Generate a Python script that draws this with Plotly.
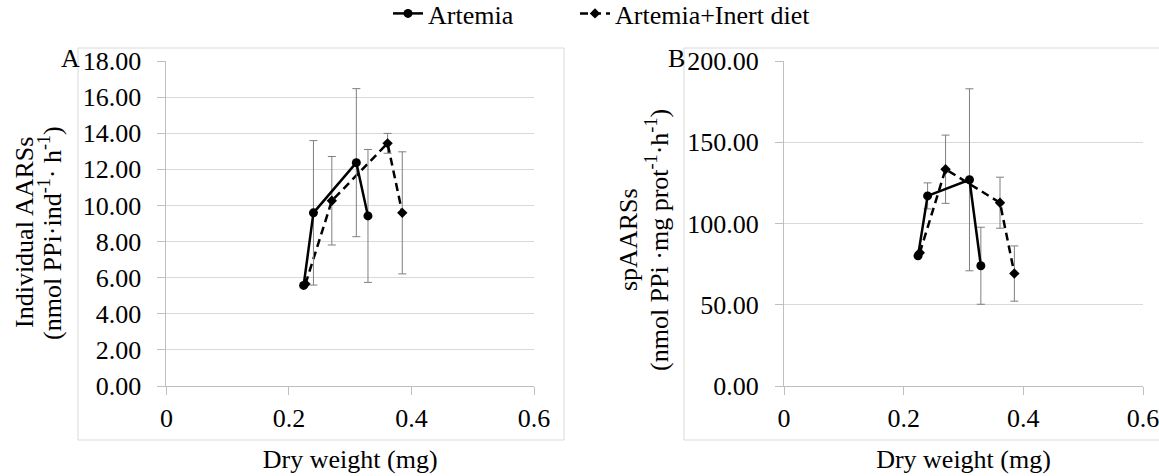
import plotly.graph_objects as go

# ---------------- data ----------------
dw_artemia = [0.224, 0.240, 0.310, 0.329]
dw_inert = [0.227, 0.270, 0.361, 0.385]

# Panel A: individual AARSs (nmol PPi ind-1 h-1)
aars_artemia = [5.57, 9.59, 12.37, 9.42]
aars_artemia_err = [None, 4.0, 4.1, 3.68]
aars_inert = [5.65, 10.26, 13.44, 9.59]
aars_inert_err = [None, 2.45, 0.55, 3.38]

# Panel B: spAARSs (nmol PPi mg prot-1 h-1)
sp_artemia = [80.1, 117.0, 126.9, 74.0]
sp_artemia_err = [None, 8.0, 56.0, 23.7]
sp_inert = [82.0, 133.4, 112.8, 69.2]
sp_inert_err = [None, 21.0, 15.7, 17.0]

series_names = ["Artemia", "Artemia+Inert diet"]
x_ticks = [0, 0.2, 0.4, 0.6]
x_tick_labels = ["0", "0.2", "0.4", "0.6"]
title_a = ["Individual AARSs", "(nmol PPi·ind<sup>-1</sup>· h<sup>-1</sup>)"]
title_b = ["spAARSs", "(nmol PPi ·mg prot<sup>-1</sup>·h<sup>-1</sup>)"]
x_title = "Dry weight (mg)"

# ---------------- styling ----------------
W, H = 1159, 476
FONT = "Liberation Serif, Times New Roman, serif"
FS = 26
ERR = dict(type="data", color="#7F7F7F", thickness=1, width=4, visible=True)
GRID = "#D9D9D9"
AXLINE = "#BFBFBF"


def px_x(v):
    return v / W


def px_y(v):
    return 1 - v / H


fig = go.Figure()


def add_panel(xa, ya, y_inert, e_inert, y_art, e_art, show):
    fig.add_trace(go.Scatter(
        x=dw_inert, y=y_inert, name=series_names[1], mode="lines+markers",
        line=dict(color="black", width=2.5, dash="8px,5px"),
        marker=dict(symbol="diamond", size=8, color="black"),
        error_y=dict(array=e_inert, **ERR),
        xaxis=xa, yaxis=ya, showlegend=show, legend="legend2"))
    fig.add_trace(go.Scatter(
        x=dw_artemia, y=y_art, name=series_names[0], mode="lines+markers",
        line=dict(color="black", width=2.5),
        marker=dict(symbol="circle", size=9, color="black"),
        error_y=dict(array=e_art, **ERR),
        xaxis=xa, yaxis=ya, showlegend=show, legend="legend"))


add_panel("x", "y", aars_inert, aars_inert_err, aars_artemia, aars_artemia_err, True)
add_panel("x2", "y2", sp_inert, sp_inert_err, sp_artemia, sp_artemia_err, False)

tfont = dict(family=FONT, size=FS, color="black")
ydom = [px_y(386), px_y(61)]
xcommon = dict(range=[0, 0.6], tickvals=x_ticks, ticktext=x_tick_labels,
               showgrid=False, zeroline=False, showline=True, linecolor=AXLINE,
               ticks="outside", ticklen=8, tickcolor=AXLINE, ticklabelstandoff=1,
               ticklabeloverflow="allow", tickfont=tfont,
               title=dict(text=x_title, standoff=17, font=tfont),
               automargin=False, fixedrange=True)
ycommon = dict(showgrid=True, gridcolor=GRID, gridwidth=1, zeroline=False,
               showline=True, linecolor=AXLINE, ticks="outside", ticklen=8,
               tickcolor=AXLINE, ticklabelstandoff=11, tickformat=".2f",
               tickfont=tfont, automargin=False, fixedrange=True)

legend_common = dict(orientation="h", xanchor="left", yanchor="top", y=1.021,
                     font=tfont, bgcolor="rgba(0,0,0,0)")

fig.update_layout(
    width=W, height=H,
    margin=dict(l=0, r=0, t=0, b=0, autoexpand=False),
    paper_bgcolor="white", plot_bgcolor="white",
    font=tfont,
    xaxis=dict(domain=[px_x(166.4), px_x(534)], anchor="y", **xcommon),
    yaxis=dict(domain=ydom, anchor="x", range=[0, 18], dtick=2, **ycommon),
    xaxis2=dict(domain=[px_x(784), px_x(1143)], anchor="y2", **xcommon),
    yaxis2=dict(domain=ydom, anchor="x2", range=[0, 200], dtick=50, **ycommon),
    legend=dict(x=px_x(388), **legend_common),
    legend2=dict(x=px_x(575), **legend_common),
    showlegend=True,
)

# y-axis titles (two rotated lines each)
for lines, xs, yc in [(title_a, (24, 50), 233), (title_b, (628, 657), 240)]:
    for txt, xc in zip(lines, xs):
        fig.add_annotation(text=txt, xref="paper", yref="paper", x=px_x(xc), y=px_y(yc),
                           textangle=-90, showarrow=False, xanchor="center",
                           yanchor="middle", font=tfont)

# panel borders (light grey frames as in the reference)
for x0, x1 in [(78, 564), (684, 1180)]:
    fig.add_shape(type="rect", xref="paper", yref="paper",
                  x0=px_x(x0), x1=px_x(x1), y0=px_y(440), y1=px_y(48),
                  line=dict(color=GRID, width=1), fillcolor="rgba(0,0,0,0)", layer="below")

# panel letters
for label, xc in [("A", 70), ("B", 676)]:
    fig.add_annotation(text=label, xref="paper", yref="paper", x=px_x(xc), y=px_y(58),
                       showarrow=False, xanchor="center", yanchor="middle", font=tfont)

fig.write_html("out.html",
               config={"displayModeBar": False},
               post_script="document.body.style.margin='0px';"
                           "document.body.style.overflow='hidden';")
